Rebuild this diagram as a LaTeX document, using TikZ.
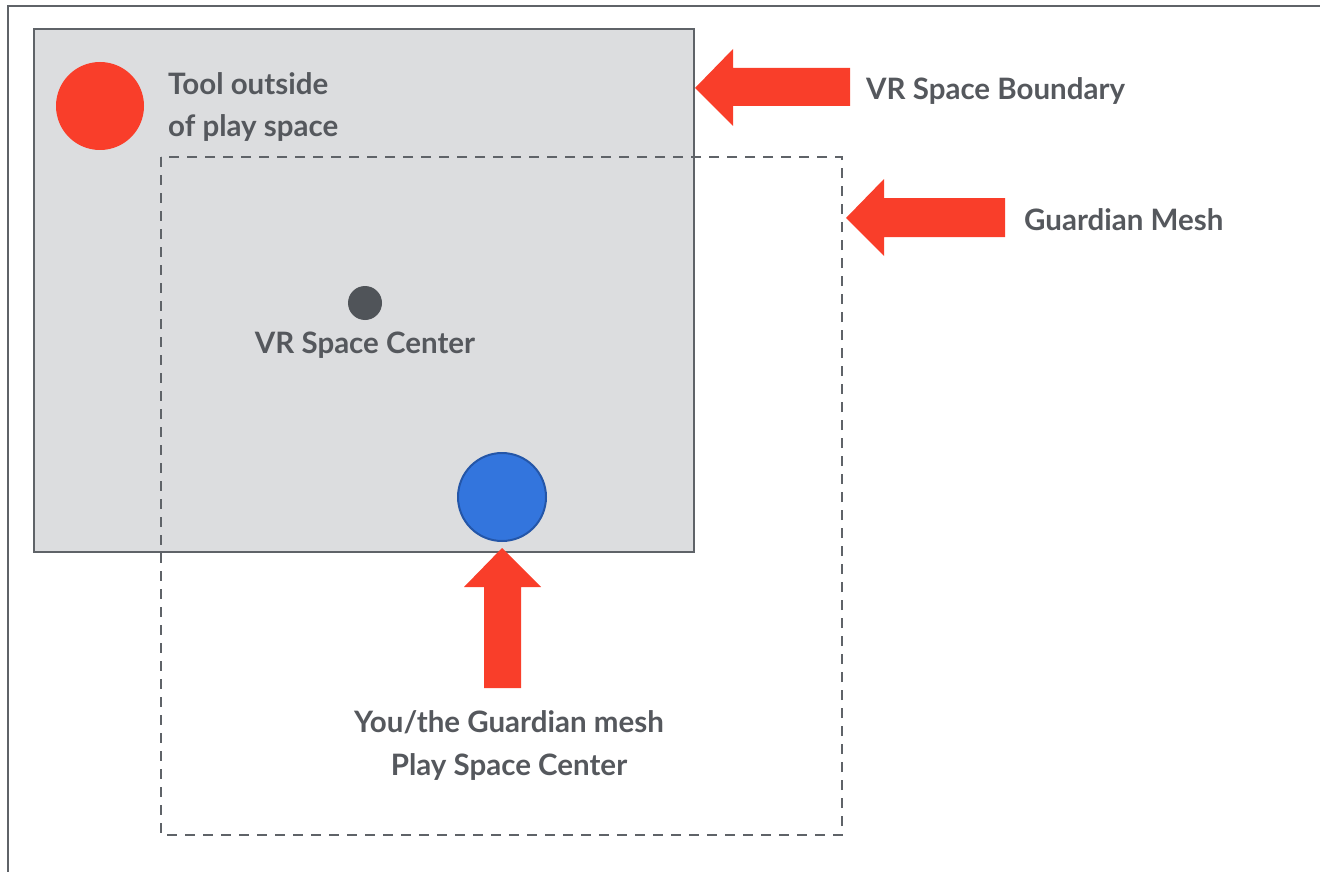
\documentclass[tikz,border=0pt]{standalone}
\usepackage{fontspec}
\setmainfont{Lato}
\definecolor{frame}{HTML}{5F6368}
\definecolor{boxfill}{HTML}{DCDDDF}
\definecolor{redc}{HTML}{F93E2A}
\definecolor{bluec}{HTML}{3375DD}
\definecolor{blueb}{HTML}{2456A8}
\definecolor{darkdot}{HTML}{505459}
\definecolor{txt}{HTML}{55585D}
\tikzset{
  lbl/.style={font=\fontsize{29.5}{43}\selectfont\bfseries, text=txt, inner sep=0pt},
  redarrow/.style={fill=redc, draw=none},
}
\begin{document}
\begin{tikzpicture}[x=1pt,y=-1pt]
\useasboundingbox (0,0) rectangle (1320,872);
% outer frame (left and top only)
\draw[frame, line width=2.8pt] (8,872) -- (8,6) -- (1320,6);
% VR space boundary box
\draw[frame, fill=boxfill, line width=2.2pt] (34,29) rectangle (694,552);
% Guardian mesh dashed box
\draw[frame, line width=2.4pt, dash pattern=on 10pt off 8pt] (161,157) rectangle (842,835);
% circles
\node[circle, fill=redc, minimum size=88pt, inner sep=0pt] (tool) at (100,106) {};
\node[circle, fill=darkdot, minimum size=34pt, inner sep=0pt] (vrc) at (365,303) {};
\node[circle, fill=bluec, draw=blueb, line width=2pt, minimum size=88pt, inner sep=0pt] (you) at (502,497) {};
% labels
\node[lbl, anchor=west, align=left, font=\fontsize{29.5}{42}\selectfont\bfseries] (toollbl) at (168,107) {Tool outside\\of play space};
\node[lbl] (vrclbl) at (365,345) {VR Space Center};
\node[lbl, anchor=west] (vrblbl) at (866,91) {VR Space Boundary};
\node[lbl, anchor=west] (gmlbl) at (1024,220) {Guardian Mesh};
\node[lbl, align=center] (youlbl) at (509,746) {You/the Guardian mesh\\Play Space Center};
% arrows
\coordinate (a1tip) at (695,88);
\coordinate (a2tip) at (846,218);
\coordinate (a3tip) at (502,548);
\fill[redarrow] (a1tip) -- ++(38,-39) -- ++(0,19) -- (850,68) -- (850,106) -- (733,106) -- ++(0,20) -- cycle;
\fill[redarrow] (a2tip) -- ++(38,-39) -- ++(0,19) -- (1005,198) -- (1005,237) -- (884,237) -- ++(0,19) -- cycle;
\fill[redarrow] (a3tip) -- (541,587) -- (521,587) -- (521,688) -- (484,688) -- (484,587) -- (464,587) -- cycle;
\end{tikzpicture}
\end{document}
